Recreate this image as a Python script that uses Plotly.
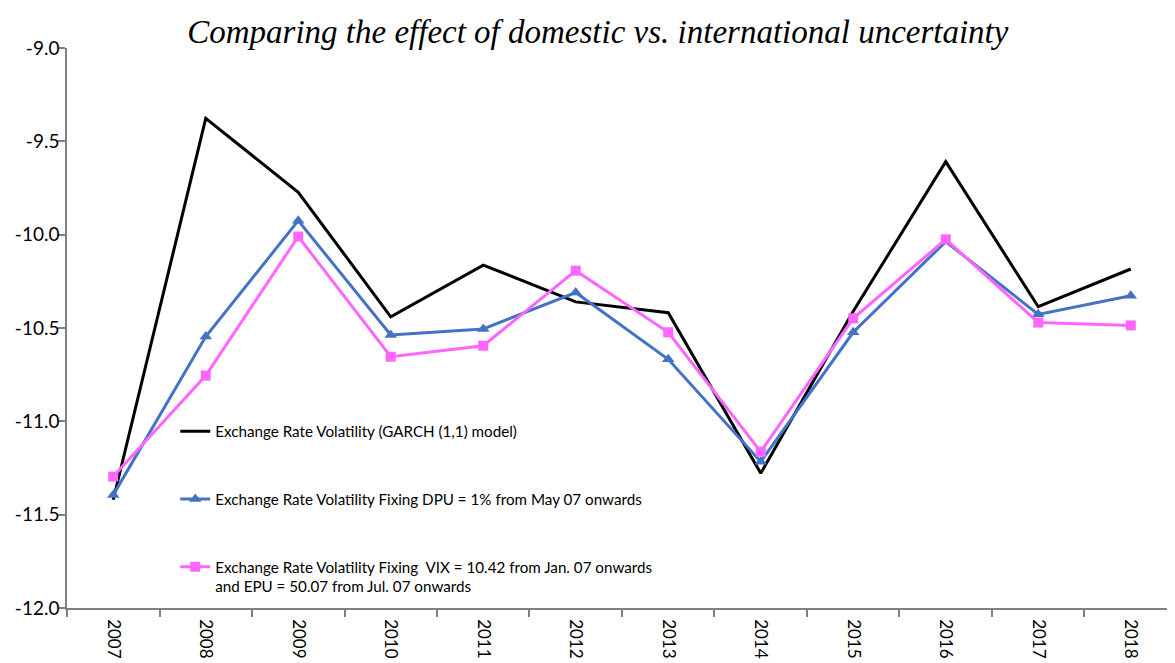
import plotly.graph_objects as go

years = ["2007", "2008", "2009", "2010", "2011", "2012", "2013", "2014", "2015", "2016", "2017", "2018"]
garch = [-11.42, -9.377, -9.773, -10.44, -10.163, -10.36, -10.418, -11.278, -10.41, -9.609, -10.386, -10.184]
fix_dpu = [-11.394, -10.546, -9.925, -10.537, -10.505, -10.31, -10.668, -11.216, -10.523, -10.037, -10.427, -10.327]
fix_vix_epu = [-11.296, -10.755, -10.01, -10.654, -10.595, -10.193, -10.523, -11.163, -10.448, -10.025, -10.471, -10.486]

y_tick_values = [-12.0, -11.5, -11.0, -10.5, -10.0, -9.5, -9.0]
y_tick_labels = ["-12.0", "-11.5", "-11.0", "-10.5", "-10.0", "-9.5", "-9.0"]

name_garch = "Exchange Rate Volatility (GARCH (1,1) model)"
name_dpu = "Exchange Rate Volatility Fixing DPU = 1% from May 07 onwards"
name_vix = "Exchange Rate Volatility Fixing  VIX = 10.42 from Jan. 07 onwards<br>and EPU = 50.07 from Jul. 07 onwards"

title_text = "Comparing the effect of domestic vs. international uncertainty"

fig = go.Figure()
fig.add_trace(go.Scatter(x=years, y=garch, mode="lines", name=name_garch, legendgroup="a",
                         line=dict(color="#000000", width=3)))
fig.add_trace(go.Scatter(x=years, y=fix_dpu, mode="lines+markers", name=name_dpu, legendgroup="b",
                         line=dict(color="#4472C4", width=3),
                         marker=dict(symbol="triangle-up", size=11, color="#4472C4")))
fig.add_trace(go.Scatter(x=years, y=fix_vix_epu, mode="lines+markers", name=name_vix, legendgroup="c",
                         line=dict(color="#FF66FF", width=3),
                         marker=dict(symbol="square", size=10, color="#FF66FF")))

font_main = "Lato, Carlito, Calibri, sans-serif"

fig.update_layout(
    width=1175, height=663,
    margin=dict(l=59, r=0, t=40, b=63, autoexpand=False),
    paper_bgcolor="white", plot_bgcolor="white",
    title=dict(text=title_text, x=0.502, xanchor="center", y=0.964, yanchor="middle",
               font=dict(family="Liberation Serif", size=33, color="#000000", style="italic")),
    showlegend=True,
    legend=dict(x=0.097, xanchor="left", y=0.345, yanchor="top",
                bgcolor="rgba(0,0,0,0)", traceorder="grouped", tracegroupgap=45,
                valign="top", itemwidth=30,
                font=dict(family=font_main, size=15.2, color="#000000")),
    xaxis=dict(type="category", range=[-0.5, 11.565], showgrid=False, showline=True, automargin=False,
               linecolor="#808080", linewidth=1.5, ticks="outside", ticklen=7,
               tickcolor="#808080", tickwidth=1.5, tickson="boundaries", tickangle=90,
               ticklabelstandoff=6,
               tickfont=dict(family=font_main, size=17, color="#000000"), zeroline=False),
    yaxis=dict(range=[-12, -9], tickmode="array", tickvals=y_tick_values, ticktext=y_tick_labels,
               showgrid=False, automargin=False,
               showline=True, linecolor="#808080", linewidth=1.5, ticks="outside", ticklen=7,
               tickcolor="#808080", tickwidth=1.5, ticklabelstandoff=-5,
               tickfont=dict(family=font_main, size=19, color="#000000"), zeroline=False),
)

fig.write_html("out.html")
